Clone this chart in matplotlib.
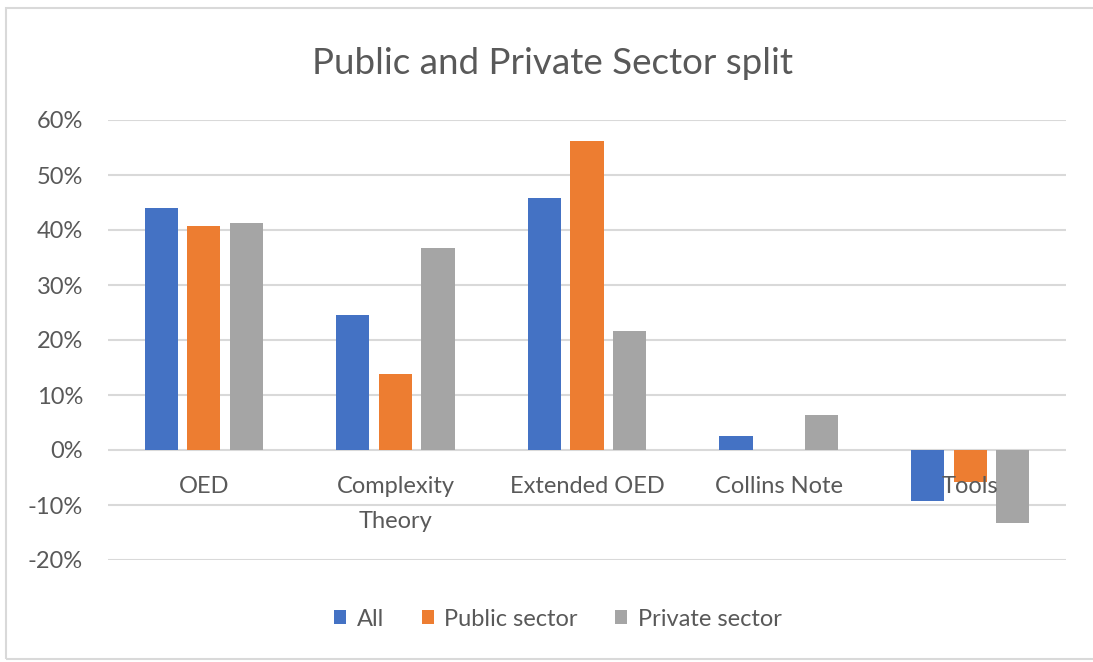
import numpy as np
import matplotlib
matplotlib.use("Agg")
import matplotlib.pyplot as plt
from matplotlib.patches import Rectangle
from matplotlib.ticker import PercentFormatter

# ---------------- DATA ----------------
categories = ["OED", "Complexity\nTheory", "Extended OED", "Collins Note", "Tools"]
series_names = ["All", "Public sector", "Private sector"]
all_vals = [0.44, 0.246, 0.458, 0.025, -0.093]
public_vals = [0.407, 0.139, 0.561, 0.0, -0.058]
private_vals = [0.412, 0.368, 0.217, 0.063, -0.133]
yticks = [-0.2, -0.1, 0.0, 0.1, 0.2, 0.3, 0.4, 0.5, 0.6]
# --------------------------------------

colors = ["#4472C4", "#ED7D31", "#A5A5A5"]
text_color = "#595959"
grid_color = "#D9D9D9"

plt.rcParams["font.family"] = ["Lato", "DejaVu Sans"]
plt.rcParams["axes.unicode_minus"] = False

fig = plt.figure(figsize=(10.93, 6.62), dpi=100)
ax = fig.add_axes([108 / 1093, 1 - 560 / 662, (1066 - 108) / 1093, 440 / 662])

# chart area border
fig.patches.append(Rectangle((6 / 1093, 3 / 662), 1.2, 651 / 662,
                             transform=fig.transFigure, fill=False,
                             edgecolor=grid_color, linewidth=1.5))

x = np.arange(len(categories))
step = 0.2225
width = 0.173
for i, (vals, name) in enumerate(zip([all_vals, public_vals, private_vals], series_names)):
    ax.bar(x + (i - 1) * step, vals, width, color=colors[i], label=name, zorder=1)

for yt in yticks:
    ax.axhline(yt, color=grid_color, linewidth=1.5, zorder=0.5)

ax.set_xlim(-0.5, len(categories) - 0.5)
ax.set_ylim(-0.2, 0.6)
ax.set_yticks(yticks)
ax.yaxis.set_major_formatter(PercentFormatter(1.0, decimals=0))
ax.set_xticks([])

for s in ax.spines.values():
    s.set_visible(False)

ax.tick_params(axis="y", length=0, pad=18, labelsize=17, labelcolor=text_color)

# category labels sit just under the zero line, drawn above the bars
for xi, cat in zip(x, categories):
    ax.annotate(cat, xy=(xi, 0), xytext=(0, -18.5), textcoords="offset points",
                ha="center", va="top", fontsize=17, color=text_color,
                linespacing=1.85, zorder=5, annotation_clip=False)

fig.text(552 / 1093, 1 - 63 / 662, "Public and Private Sector split",
         ha="center", va="center", fontsize=26.5, color=text_color)

fig.legend(loc="center", bbox_to_anchor=(558 / 1093, 1 - 619 / 662), ncol=3,
           frameon=False, fontsize=17, labelcolor=text_color,
           handlelength=0.5, handleheight=0.5, handletextpad=0.45,
           columnspacing=1.6)

fig.savefig("out.png", dpi=100, facecolor="white")
